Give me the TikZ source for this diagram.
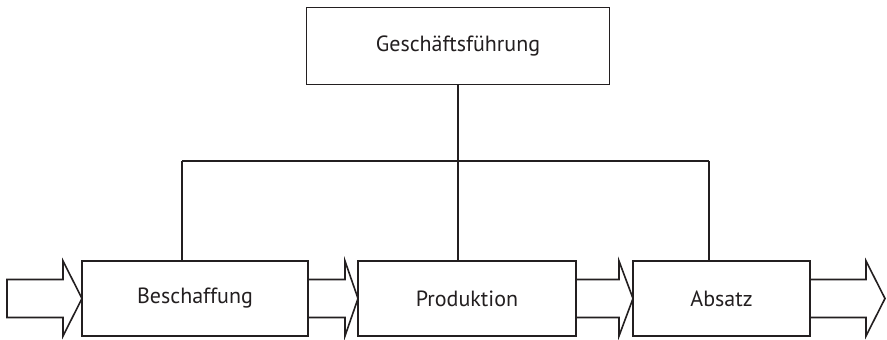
\documentclass[tikz,border=0pt]{standalone}
\usepackage{fontspec}
\setmainfont{PT Sans}
\definecolor{ink}{HTML}{231F20}
\newcommand{\flowarrow}[3]{%
  \draw[arrowshape] (#1,60.5) -- (#2,60.5) -- (#2,79) -- (#3,41.5) -- (#2,4) -- (#2,22.5) -- (#1,22.5) -- cycle;}
\begin{document}
\begin{tikzpicture}[x=1pt,y=1pt,
  box/.style={draw=ink, line width=1.6pt, fill=white, text=ink, inner sep=0pt, font=\fontsize{22}{26}\selectfont},
  link/.style={draw=ink, line width=1.6pt},
  arrowshape/.style={draw=ink, line width=1.6pt, line join=miter, fill=white}]
\useasboundingbox (0,0) rectangle (887,340);
\node[box, minimum width=303pt, minimum height=77pt] (gf) at (458,294) {Geschäftsführung};
\node[box, minimum width=226pt, minimum height=75pt] (be) at (195,41.5) {Beschaffung};
\node[box, minimum width=218pt, minimum height=75pt] (pr) at (467,41.5) {Produktion};
\node[box, minimum width=177pt, minimum height=75pt] (ab) at (721.5,41.5) {Absatz};
\coordinate (busL) at (182,179);
\coordinate (busM) at (458,179);
\coordinate (busR) at (709,179);
\draw[link] (gf.south) -- (busM);
\draw[link] (busL) -- (busR);
\draw[link] (busL) -- (busL |- be.north);
\draw[link] (busM) -- (busM |- pr.north);
\draw[link] (busR) -- (busR |- ab.north);
\flowarrow{7}{63}{82}
\flowarrow{308}{345}{358}
\flowarrow{576}{619}{633}
\flowarrow{810}{866}{885}
\end{tikzpicture}
\end{document}
